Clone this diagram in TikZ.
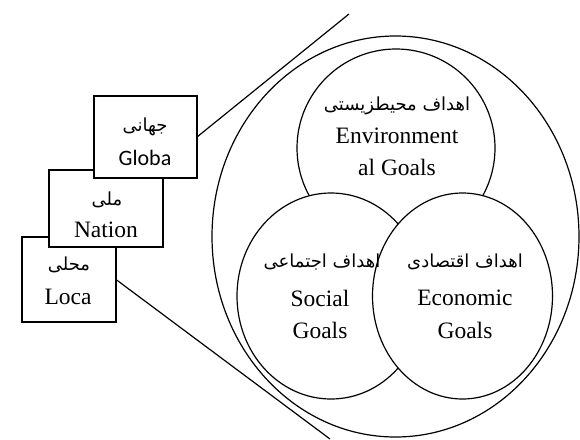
\documentclass[tikz,border=0pt]{standalone}
\usepackage{fontspec}
\usetikzlibrary{shapes.geometric}
\setmainfont{Liberation Serif}
\newfontfamily\arabicfont[Script=Arabic]{DejaVu Sans}
\newfontfamily\calibfont{Carlito}
\TeXXeTstate=1
\newcommand{\fa}[1]{{\arabicfont\fontsize{18}{20}\selectfont\beginR #1\endR}}
\tikzset{
  lw/.style={line width=1.2pt},
  boxnode/.style={draw, lw, fill=white, rectangle, inner sep=0pt, outer sep=0pt},
  goal/.style={draw, lw, fill=white, ellipse, inner sep=0pt, outer sep=0pt},
  lat/.style={inner sep=0pt, font=\fontsize{23.5}{27}\selectfont},
  latsans/.style={inner sep=0pt, font=\calibfont\fontsize{22}{26}\selectfont},
  per/.style={inner sep=0pt},
}
\begin{document}
\begin{tikzpicture}[x=1pt, y=-1pt]
\useasboundingbox (0,0) rectangle (580,439);
% outer ellipse
\node[goal, fill=none, minimum width=367pt, minimum height=401pt] (outer) at (395.5,236.5) {};
% environment
\node[goal, minimum width=198pt, minimum height=198pt] (env) at (396,148) {};
\node[goal, minimum width=188pt, minimum height=206pt] (soc) at (331,296) {};
\node[goal, minimum width=180pt, minimum height=206pt] (eco) at (462.5,296) {};
% texts in circles
\node[per] (envfa) at (397,106) {\fa{اهداف محیطزیستی}};
\node[lat] (envl1) at (397,136) {Environment};
\node[lat] (envl2) at (397,167) {al Goals};
\node[per] (socfa) at (322,262) {\fa{اهداف اجتماعی}};
\node[lat] (socl1) at (320,298) {Social};
\node[lat] (socl2) at (320,330) {Goals};
\node[per] (ecofa) at (465,262) {\fa{اهداف اقتصادی}};
\node[lat] (ecol1) at (465,298) {Economic};
\node[lat] (ecol2) at (465,330) {Goals};
% boxes
\node[boxnode, minimum width=94pt, minimum height=85pt] (loca) at (69,279.5) {};
\node[boxnode, minimum width=114pt, minimum height=77pt] (nation) at (106,208.5) {};
\node[boxnode, minimum width=103pt, minimum height=82pt] (globa) at (145.5,137) {};
\node[per] (globafa) at (145,127) {\fa{جهانی}};
\node[latsans] (global) at (145,158) {Globa};
\node[per] (nationfa) at (107,200) {\fa{ملی}};
\node[lat] (nationl) at (106,230) {Nation};
\node[per] (locafa) at (69,265) {\fa{محلی}};
\node[lat] (local) at (68,297) {Loca};
% zoom lines
\coordinate (topend) at (349,14);
\coordinate (botend) at (330,439);
\draw[lw] (globa.east) -- (topend);
\draw[lw] (loca.east) -- (botend);
\end{tikzpicture}
\end{document}
